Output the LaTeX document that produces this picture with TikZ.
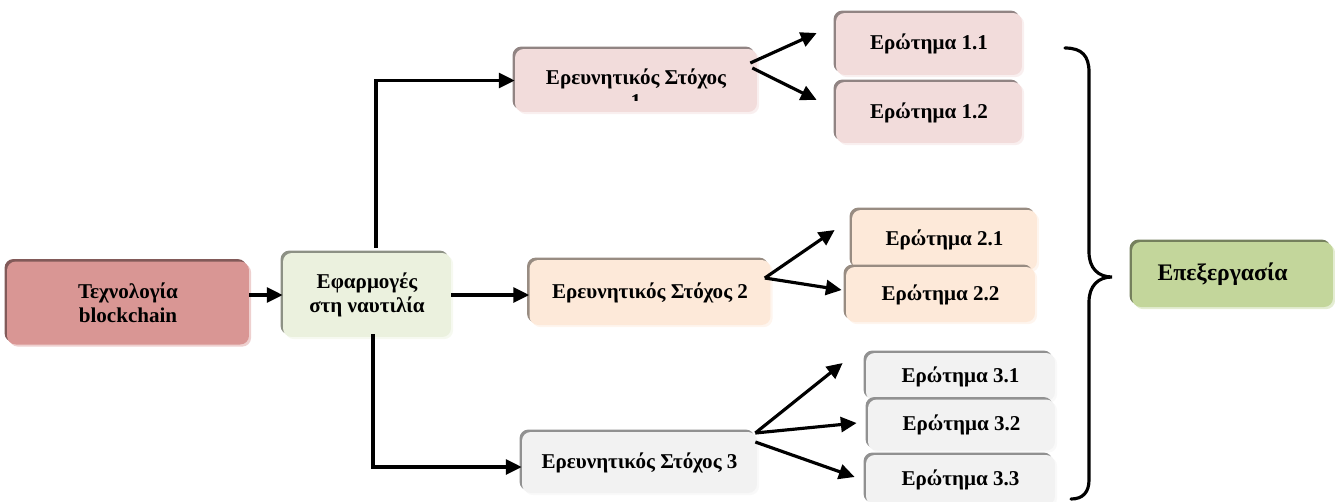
\documentclass[tikz,border=0pt]{standalone}
\usepackage{fontspec}
\setmainfont{Liberation Serif}
\usetikzlibrary{arrows.meta,shadows}

\definecolor{techc}{HTML}{D99694}
\definecolor{appc}{HTML}{EBF1DE}
\definecolor{onec}{HTML}{F2DCDB}
\definecolor{twoc}{HTML}{FDE9D9}
\definecolor{threec}{HTML}{F2F2F2}
\definecolor{procc}{HTML}{C3D69B}

\tikzset{
  txt/.style={font=\bfseries\fontsize{12}{13.5}\selectfont, align=center},
  box/.style={txt, rounded corners=5pt, fill=#1, inner sep=2pt,
    general shadow={shadow xshift=-1.4pt, shadow yshift=1.4pt, fill=#1!60!black},
    general shadow={shadow xshift=1.2pt, shadow yshift=-1.2pt, fill=#1!45!white}},
  arr/.style={-{Triangle[length=9pt,width=8.5pt]}, line width=1.8pt},
}

\begin{document}
\begin{tikzpicture}[x=0.02cm, y=-0.02cm]
  \useasboundingbox (0,0) rectangle (1335,501);

  \node[box=techc, minimum width=4.84cm, minimum height=1.66cm] (tech) at (128,303) {Τεχνολογία\\blockchain};
  \node[box=appc, minimum width=3.36cm, minimum height=1.68cm] (app) at (367,295) {Εφαρμογές\\στη ναυτιλία};

  \node[box=onec, minimum width=4.84cm, minimum height=1.26cm] (goal1) at (636,80.5) {};
  \begin{scope}
    \clip (520,55) rectangle (752,100);
    \node[txt] (goal1txt) at (636,88.5) {Ερευνητικός Στόχος\\1};
  \end{scope}
  \node[box=twoc, minimum width=4.82cm, minimum height=1.3cm] (goal2) at (650,292.5) {Ερευνητικός Στόχος 2};
  \node[box=threec, minimum width=4.7cm, minimum height=1.22cm] (goal3) at (639.5,462.5) {Ερευνητικός Στόχος 3};

  \node[box=onec, minimum width=3.72cm, minimum height=1.24cm] (q11) at (929,44) {Ερώτημα 1.1};
  \node[box=onec, minimum width=3.72cm, minimum height=1.22cm] (q12) at (929,112.5) {Ερώτημα 1.2};
  \node[box=twoc, minimum width=3.7cm, minimum height=1.2cm] (q21) at (944.5,240) {Ερώτημα 2.1};
  \node[box=twoc, minimum width=3.78cm, minimum height=1.1cm] (q22) at (940.5,294.5) {Ερώτημα 2.2};
  \node[box=threec, minimum width=3.78cm, minimum height=0.96cm] (q31) at (960.5,377) {Ερώτημα 3.1};
  \node[box=threec, minimum width=3.74cm, minimum height=1.02cm] (q32) at (961.5,425) {Ερώτημα 3.2};
  \node[box=threec, minimum width=3.78cm, minimum height=1.0cm] (q33) at (960.5,480) {Ερώτημα 3.3};

  \node[box=procc, minimum width=4.02cm, minimum height=1.3cm, text width=3.0cm, align=left,
    font=\bfseries\fontsize{13.5}{15}\selectfont] (proc) at (1232.5,274.5) {Επεξεργασία};

  \draw[arr] (tech.east |- app.west) -- (app.west);
  \draw[arr] (app.east) -- (app.east -| goal2.west);
  \draw[arr] ([shift={(9,-5)}]app.north) |- (goal1.west);
  \draw[arr] ([shift={(6,-3)}]app.south) |- ([shift={(0,4.5)}]goal3.west);

  \draw[arr] ([shift={(-7,-17.5)}]goal1.east) -- ([shift={(-19,-11)}]q11.west);
  \draw[arr] ([shift={(-5,-12.5)}]goal1.east) -- ([shift={(-19,-12.5)}]q12.west);
  \draw[arr] ([shift={(-6,-14.5)}]goal2.east) -- ([shift={(-17,-10)}]q21.west);
  \draw[arr] ([shift={(-6,-14.5)}]goal2.east) -- ([shift={(-4,-4.5)}]q22.west);
  \draw[arr] ([shift={(-2,-29.5)}]goal3.east) -- ([shift={(-23,-14)}]q31.west);
  \draw[arr] ([shift={(-2,-29.5)}]goal3.east) -- ([shift={(-11,-2)}]q32.west);
  \draw[arr] ([shift={(-2,-20.5)}]goal3.east) -- ([shift={(-11,-3)}]q33.west);

  \draw[line width=1.8pt, line cap=round] (1065,48) .. controls (1082,48) and (1089,56) .. (1089,72)
    -- (1089,252) .. controls (1089,268) and (1098,277) .. (1112,277)
    .. controls (1098,277) and (1089,286) .. (1089,302)
    -- (1089,480) .. controls (1089,492) and (1083,499) .. (1071,499);
\end{tikzpicture}
\end{document}
